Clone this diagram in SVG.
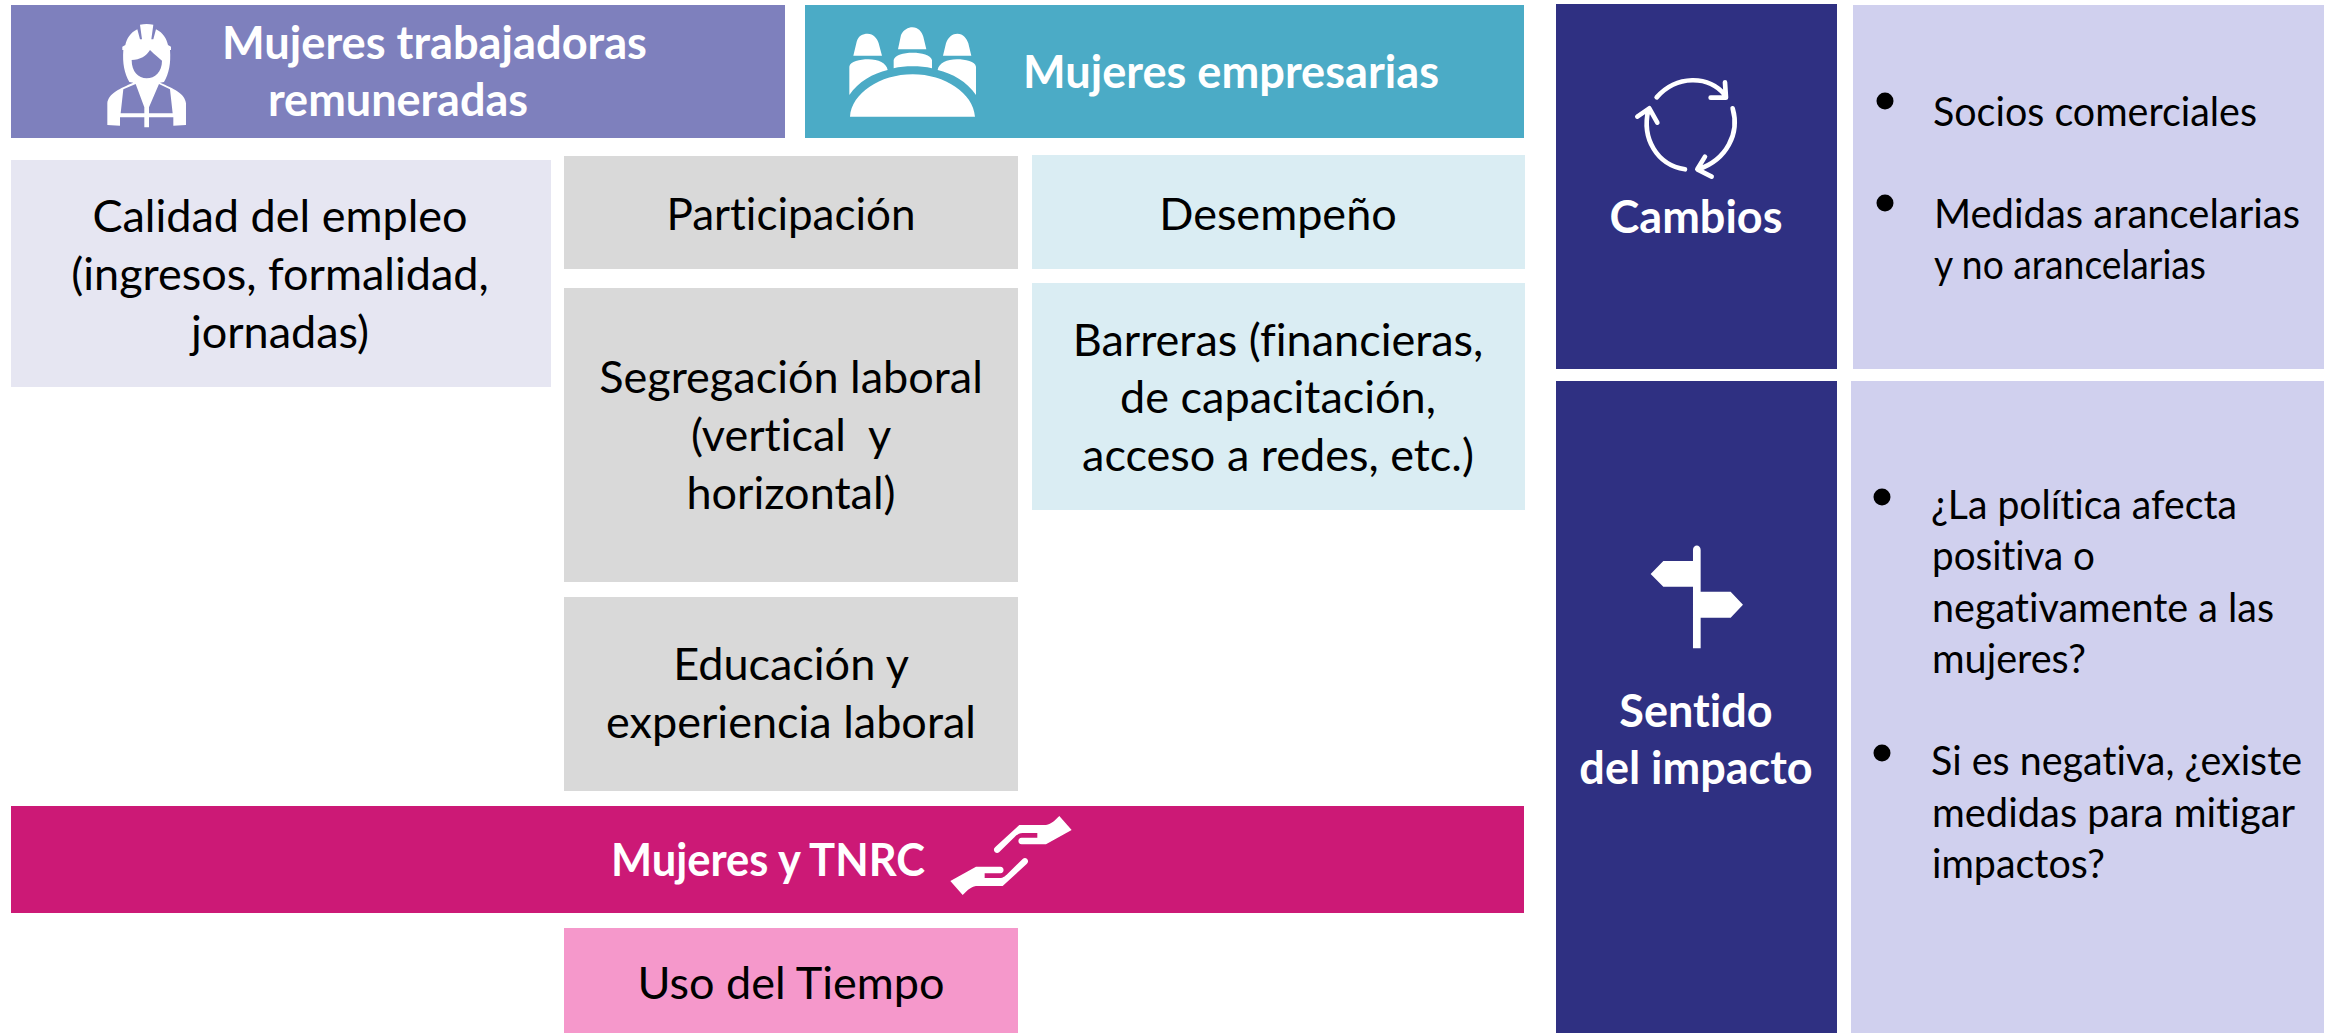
<svg xmlns="http://www.w3.org/2000/svg" width="2333" height="1033" viewBox="0 0 2333 1033">
<style>
text{font-family:"Lato","Carlito","Open Sans",sans-serif;font-size:45px;fill:#000;font-variant-ligatures:none}
.c{text-anchor:middle}
.h{font-weight:700;fill:#fff}
.i{fill:#fff;stroke:none}
.s{fill:none;stroke:#fff;stroke-width:14;stroke-linecap:round;stroke-linejoin:round}
.l{font-size:40px}
</style>
<rect width="2333" height="1033" fill="#fff"/>
<g id="connectors"/>
<g id="trabajadoras"><rect x="11" y="5" width="774" height="133" fill="#7E80BD"/>
<g transform="translate(90,10) scale(.3333)"><path class="i" fill-rule="evenodd" d="M150,44 Q170,40 190,44 L184,88 H156Z M142,58 L150,88 H190 L198,58 C220,68 230,88 234,105 L243,110 V120 H240 C243,160 237,190 222,216 L210,218 C250,235 285,250 288,280 V345 L250,347 V322 H177 V352 H163 V322 H90 V347 L52,345 V280 C55,250 90,235 130,218 L118,216 C103,190 97,160 100,120 H97 V110 L106,105 C110,88 120,68 142,58Z M125,150 C150,150 170,137 180,120 C195,135 208,145 216,152 C216,185 195,205 170,205 C145,205 125,185 125,150Z M100,238 L137,222 L163,292 V310 H92Z M240,238 L207,222 L177,292 V310 H248Z"/></g>
<text class="h" x="222" y="59" textLength="425" lengthAdjust="spacingAndGlyphs">Mujeres trabajadoras</text>
<text class="h" x="268" y="116" textLength="260" lengthAdjust="spacingAndGlyphs">remuneradas</text></g>
<g id="empresarias"><rect x="805" y="5" width="719" height="133" fill="#4BABC6"/>
<g transform="translate(840,15) scale(.3333)"><path class="i" d="M30,305 C35,235 120,178 218,178 C315,178 400,235 405,305Z M40,122 L50,80 C55,62 68,56 83,56 C100,56 112,70 116,85 L126,122Z M174,103 L183,60 C190,45 205,37 217,37 C235,37 245,50 250,65 L259,103Z M309,122 L318,85 C325,65 338,56 352,56 C370,56 380,70 385,85 L394,122Z M28,240 V155 C30,140 60,133 85,133 C115,133 140,145 143,165 C100,175 55,200 28,240Z M408,240 V155 C406,140 376,133 351,133 C321,133 296,145 293,165 C336,175 381,200 408,240Z M161,160 V135 C165,120 190,113 218,113 C245,113 272,120 276,135 V160 C240,152 195,152 161,160Z"/></g>
<text class="h" x="1023" y="88" textLength="416" lengthAdjust="spacingAndGlyphs">Mujeres empresarias</text></g>
<g id="calidad"><rect x="11" y="160" width="540" height="227" fill="#E6E6F2"/>
<text class="c" x="280" y="232">Calidad del empleo</text><text class="c" x="280" y="290">(ingresos, formalidad,</text><text class="c" x="280" y="348">jornadas)</text></g>
<g id="participacion"><rect x="564" y="156" width="454" height="113" fill="#D9D9D9"/><text class="c" x="791" y="230" textLength="249" lengthAdjust="spacingAndGlyphs">Participación</text></g>
<g id="segregacion"><rect x="564" y="288" width="454" height="294" fill="#D9D9D9"/>
<text class="c" x="791" y="393">Segregación laboral</text><text class="c" x="791" y="451">(vertical&#160; y</text><text class="c" x="791" y="509">horizontal)</text></g>
<g id="educacion"><rect x="564" y="597" width="454" height="194" fill="#D9D9D9"/>
<text class="c" x="791" y="680">Educación y</text><text class="c" x="791" y="738">experiencia laboral</text></g>
<g id="desempeno"><rect x="1032" y="155" width="493" height="114" fill="#DAEDF3"/><text class="c" x="1278" y="230">Desempeño</text></g>
<g id="barreras"><rect x="1032" y="283" width="493" height="227" fill="#DAEDF3"/>
<text class="c" x="1278" y="356">Barreras (financieras,</text><text class="c" x="1278" y="413">de capacitación,</text><text class="c" x="1278" y="471">acceso a redes, etc.)</text></g>
<g id="tnrc"><rect x="11" y="806" width="1513" height="107" fill="#CC1976"/>
<text class="h" x="611" y="876" textLength="314" lengthAdjust="spacingAndGlyphs">Mujeres y TNRC</text>
<g transform="translate(940,805) scale(.3333)"><path id="hand" class="i" d="M358,33 L395,75 L318,118 H245 C232,118 232,98 245,98 H292 V84 H248 C235,84 228,92 220,100 L178,141 C168,150 155,135 166,126 L238,60 H318 C335,57 345,46 358,33Z"/><use href="#hand" transform="rotate(180 213 151.5)"/></g></g>
<g id="uso"><rect x="564" y="928" width="454" height="105" fill="#F598CB"/><text class="c" x="791" y="999">Uso del Tiempo</text></g>
<g id="cambios"><rect x="1556" y="4" width="281" height="365" fill="#2F3082"/>
<g transform="translate(1540,0) scale(.3333)"><path class="s" d="M350,292 C410,225 505,225 555,285 M555,247 L558,293 L512,293 M578,325 C600,400 560,480 475,508 M495,470 L472,508 L515,530 M435,508 C350,495 305,415 325,330 M292,350 L328,325 L352,368"/></g>
<text class="h c" x="1696" y="233">Cambios</text></g>
<g id="cambios-lista"><rect x="1853" y="5" width="471" height="364" fill="#D0D0EE"/>
<circle cx="1885" cy="101" r="8.5"/><circle cx="1885" cy="203" r="8.5"/>
<text class="l" x="1933" y="126" textLength="324" lengthAdjust="spacingAndGlyphs">Socios comerciales</text><text class="l" x="1934" y="228" textLength="366" lengthAdjust="spacingAndGlyphs">Medidas arancelarias</text><text class="l" x="1934" y="279" textLength="272" lengthAdjust="spacingAndGlyphs">y no arancelarias</text></g>
<g id="sentido"><rect x="1556" y="381" width="281" height="652" fill="#2F3082"/>
<g transform="translate(1540,520) scale(.3333)"><path class="i" d="M459,90 C459,72 482,72 482,90 V215 H572 L609,254 L572,293 H482 V385 H459 V200 H370 L332,162 L370,123 H459Z"/></g>
<text class="h c" x="1696" y="727">Sentido</text><text class="h c" x="1696" y="784">del impacto</text></g>
<g id="sentido-lista"><rect x="1851" y="381" width="473" height="652" fill="#D0D0EE"/>
<circle cx="1882" cy="497" r="8.5"/><circle cx="1882" cy="753" r="8.5"/>
<text class="l" x="1931" y="519" textLength="306" lengthAdjust="spacingAndGlyphs">¿La política afecta</text><text class="l" x="1932" y="570" textLength="163" lengthAdjust="spacingAndGlyphs">positiva o</text><text class="l" x="1932" y="622" textLength="342" lengthAdjust="spacingAndGlyphs">negativamente a las</text><text class="l" x="1932" y="673" textLength="154" lengthAdjust="spacingAndGlyphs">mujeres?</text>
<text class="l" x="1931" y="775" textLength="371" lengthAdjust="spacingAndGlyphs">Si es negativa, ¿existe</text><text class="l" x="1932" y="827" textLength="363" lengthAdjust="spacingAndGlyphs">medidas para mitigar</text><text class="l" x="1932" y="878" textLength="173" lengthAdjust="spacingAndGlyphs">impactos?</text></g>
</svg>
